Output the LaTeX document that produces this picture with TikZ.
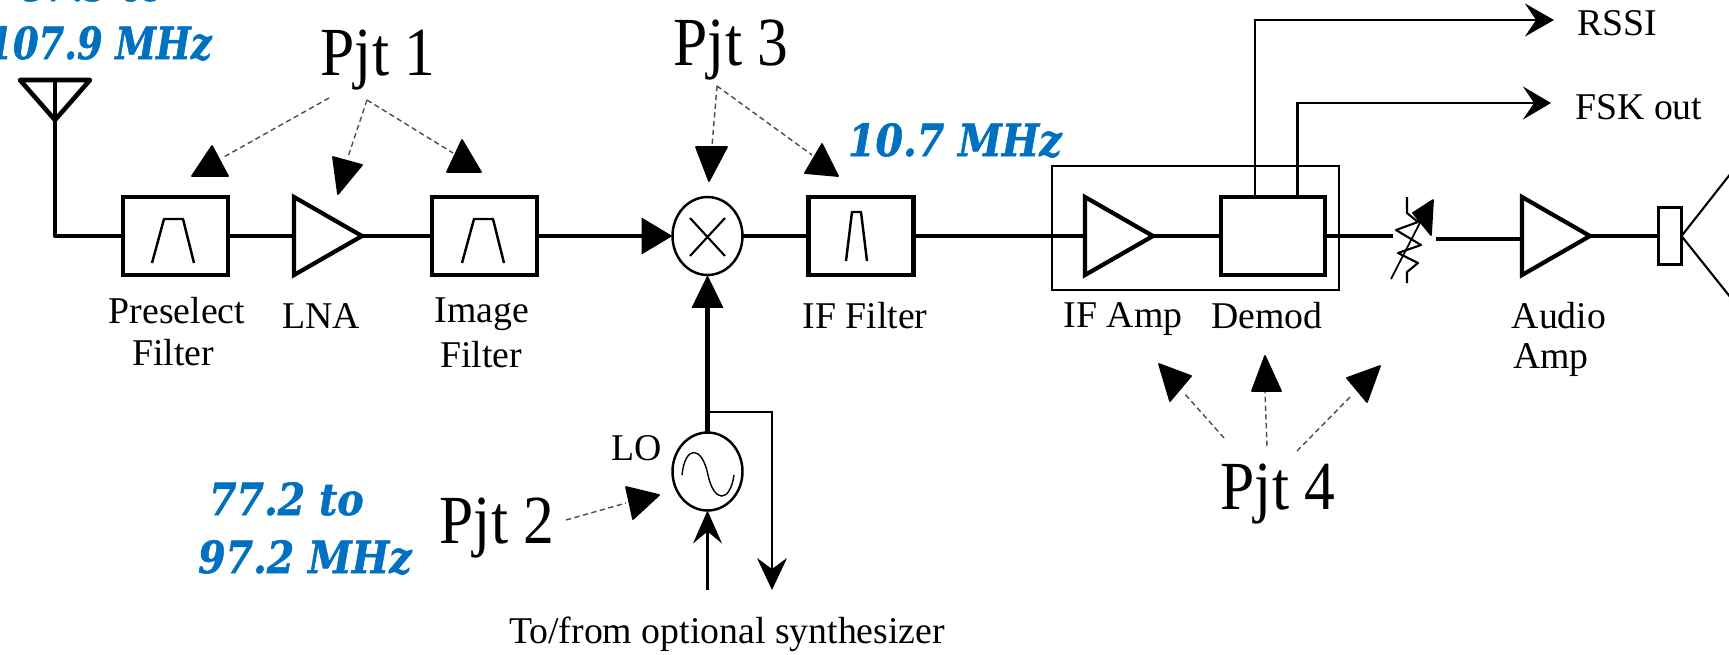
\documentclass[tikz,border=0pt]{standalone}
\usepackage{fontspec}
\setmainfont{Liberation Serif}
\newfontfamily\freqfont[BoldItalicFeatures={FakeBold=1.2}]{DejaVu Serif}
\usetikzlibrary{shapes.geometric,arrows.meta}
\definecolor{freqblue}{HTML}{0070C0}
\begin{document}
\begin{tikzpicture}[x=.02cm,y=-.02cm]

      \tikzset{wire/.style={line width=2.3pt},
      	thinwire/.style={line width=1.2pt},
      	filterbox/.style={draw, rectangle, line width=2.4pt, inner sep=0pt, outer sep=0pt, minimum width=2.1cm, minimum height=1.56cm},
      	amp/.style={draw, isosceles triangle, isosceles triangle stretches, line width=2.4pt, inner sep=0pt, outer sep=0pt, minimum width=1.56cm, minimum height=1.36cm, anchor=apex},
      	roundel/.style={draw, ellipse, line width=1.4pt, inner sep=0pt, outer sep=0pt, minimum width=1.4cm, minimum height=1.56cm},
      	passband/.style={line width=1.4pt, line join=round},
      	pointer/.style={line width=.8pt, densely dashed, black!70},
      	head/.style={fill=black, draw=black, line width=1pt, line join=round},
      	label/.style={anchor=base, inner sep=0pt, font=\fontsize{21.5}{24}\selectfont},
      	pjt/.style={anchor=base, inner sep=0pt, yscale=1.12, transform shape, font=\fontsize{35}{38}\selectfont},
      	freq/.style={anchor=base east, inner sep=0pt, yscale=1.12, transform shape, text=freqblue, font=\fontsize{22.5}{25}\freqfont\bfseries\itshape\selectfont}}
      \useasboundingbox (0,0) rectangle (1729,654);

%% Blocks
      	\node[filterbox] (presel) at (175.5,236) {};
      	\node[amp] (lna) at (362,236) {};
      	\node[filterbox] (imgfilt) at (484.5,236) {};
      	\node[roundel] (mixer) at (707.5,236) {};
      	\node[filterbox] (iffilt) at (861,236) {};
      	\node[draw, thinwire, minimum width=5.73cm, minimum height=2.48cm, inner sep=0pt, outer sep=0pt] (ifchip) at (1195.5,228) {};
      	\node[amp] (ifamp) at (1153,236) {};
      	\node[filterbox, minimum width=2.08cm] (demod) at (1273,236) {};
      	\node[amp] (audio) at (1590,236) {};
      	\node[draw, rectangle, line width=1.7pt, inner sep=0pt, outer sep=0pt, minimum width=.46cm, minimum height=1.14cm] (spk) at (1670,236) {};
      	\node[roundel] (lo) at (707.5,471.5) {};

%% Free ends
      	\coordinate (anttop) at (55,80);
      	\coordinate (antfoot) at (55,236);
      	\coordinate (lotap) at (707.5,412);
      	\coordinate (synthin) at (707.5,590);
      	\coordinate (synthout) at (772,590);
      	\coordinate (potin) at (1393,236);
      	\coordinate (potout) at (1436,239);
      	\coordinate (audioin) at (1522,239);
      	\coordinate (rssitap) at (1255,197);
      	\coordinate (rssiend) at (1554,20);
      	\coordinate (fsktap) at (1297.5,197);
      	\coordinate (fskend) at (1551,103);
      	\coordinate (coneup) at (1735,168);
      	\coordinate (conedown) at (1735,303);

%% Texts
      	\node[label] (t1) at (177,323) {Preselect};
      	\node[label] (t2) at (173,365) {Filter};
      	\node[label] (t3) at (321,328) {LNA};
      	\node[label] (t4) at (482,322) {Image};
      	\node[label] (t5) at (481,367) {Filter};
      	\node[label] (t6) at (865,328) {IF Filter};
      	\node[label] (t7) at (1123,327) {IF Amp};
      	\node[label] (t8) at (1267,328) {Demod};
      	\node[label] (t9) at (1559,328) {Audio};
      	\node[label] (t10) at (1551,368) {Amp};
      	\node[label] (t11) at (637,460) {LO};
      	\node[label] (t12) at (727,643) {To/from optional synthesizer};
      	\node[label, anchor=base west] (t13) at (1577,35) {RSSI};
      	\node[label, anchor=base west] (t14) at (1575,119) {FSK out};
      	\node[pjt] (p1) at (378,75) {Pjt 1};
      	\node[pjt] (p2) at (497,543) {Pjt 2};
      	\node[pjt] (p3) at (731,65) {Pjt 3};
      	\node[pjt] (p4) at (1278,509) {Pjt 4};
      	\node[freq, anchor=base west, xscale=.93] (f1) at (20,1) {87.9 to};
      	\node[freq, xscale=.93] (f2) at (212,59) {107.9 MHz};
      	\node[freq] (f3) at (1062,156) {10.7 MHz};
      	\node[freq] (f4) at (364,515) {77.2 to};
      	\node[freq] (f5) at (412,573) {97.2 MHz};

%Edges
		\draw[wire, line join=round] (anttop) -- (antfoot) -- (presel.west);
		\path (presel.east) edge[wire] (lna.lower side);
		\path (lna.apex) edge[wire] (imgfilt.west);
		\path (imgfilt.east) edge[wire, -{Triangle[length=.62cm, width=.72cm]}] (mixer.west);
		\path (mixer.east) edge[wire] (iffilt.west);
		\path (iffilt.east) edge[wire] (ifamp.lower side);
		\path (ifamp.apex) edge[wire] (demod.west);
		\path (demod.east) edge[wire] (potin);
		\path (potout) edge[wire] (audioin);
		\path (audio.apex) edge[wire] (spk.west);
		\path (lo.north) edge[wire, -{Triangle[length=.66cm, width=.62cm]}] (mixer.south);
		\path (synthin) edge[thinwire, -{Stealth[length=.66cm, width=.58cm, inset=.24cm]}] (lo.south);
		\draw[thinwire, -{Stealth[length=.64cm, width=.6cm, inset=.22cm]}] (lotap) -| (synthout);
		\draw[thinwire, -{Stealth[length=.58cm, width=.66cm, inset=.22cm]}] (rssitap) |- (rssiend);
		\draw[thinwire, -{Stealth[length=.56cm, width=.66cm, inset=.22cm]}] (fsktap) |- (fskend);
		\path (spk.east) edge[thinwire] (coneup);
		\path (spk.east) edge[thinwire] (conedown);

%Antenna, filter marks and the rest
		\draw[line width=2.6pt, line join=round] (20,80) -- (90,80) -- (55,120) -- cycle;
		\draw[passband] (152,263) -- (164,219) -- (183,219) -- (194,263);
		\draw[passband] (462,263) -- (474,219) -- (493,219) -- (504,263);
		\draw[passband] (846,261) -- (852,212) -- (861,212) -- (867,261);
		\draw[thinwire] (690,218) -- (725,256);
		\draw[thinwire] (725,218) -- (690,256);
		\draw[line width=.8pt] (682,475) .. controls (685,445) and (702,445) .. (708,475) .. controls (714,503) and (730,503) .. (734,475);
		\draw[line width=1.2pt, line join=round] (1407,197) -- (1407,213) -- (1418,222) -- (1396,230) -- (1421,245) -- (1398,253) -- (1418,263) -- (1407,272) -- (1407,283);
		\draw[line width=1pt] (1391,279) -- (1425,213);
		\fill[head] (1433,200) -- (1413,213) -- (1431,235) -- cycle;

%Pointers
		\coordinate (a1) at (329,98); \coordinate (a2) at (222,158);
		\coordinate (a3) at (367,100); \coordinate (a4) at (348,157);
		\coordinate (a5) at (453,153);
		\coordinate (a6) at (566,520); \coordinate (a7) at (626,503);
		\coordinate (a8) at (717,86); \coordinate (a9) at (712,146);
		\coordinate (a10) at (812,155);
		\coordinate (a11) at (1224,438); \coordinate (a12) at (1184,393);
		\coordinate (a13) at (1267,446); \coordinate (a14) at (1265,392);
		\coordinate (a15) at (1297,451); \coordinate (a16) at (1352,395);
		\path (a1) edge[pointer] (a2);
		\path (a3) edge[pointer] (a4);
		\path (a3) edge[pointer] (a5);
		\path (a6) edge[pointer] (a7);
		\path (a8) edge[pointer] (a9);
		\path (a8) edge[pointer] (a10);
		\path (a11) edge[pointer] (a12);
		\path (a13) edge[pointer] (a14);
		\path (a15) edge[pointer] (a16);
		\fill[head] (212,146) -- (192,176) -- (228,176) -- cycle;
		\fill[head] (333,157) -- (362,165) -- (338,194) -- cycle;
		\fill[head] (462,140) -- (447,172) -- (481,172) -- cycle;
		\fill[head] (626,487) -- (659,495) -- (633,519) -- cycle;
		\fill[head] (696,147) -- (727,147) -- (709,181) -- cycle;
		\fill[head] (822,144) -- (805,173) -- (838,176) -- cycle;
		\fill[head] (1159,364) -- (1191,376) -- (1170,401) -- cycle;
		\fill[head] (1265,356) -- (1252,391) -- (1281,391) -- cycle;
		\fill[head] (1380,366) -- (1347,378) -- (1367,402) -- cycle;
	\end{tikzpicture}
\end{document}
